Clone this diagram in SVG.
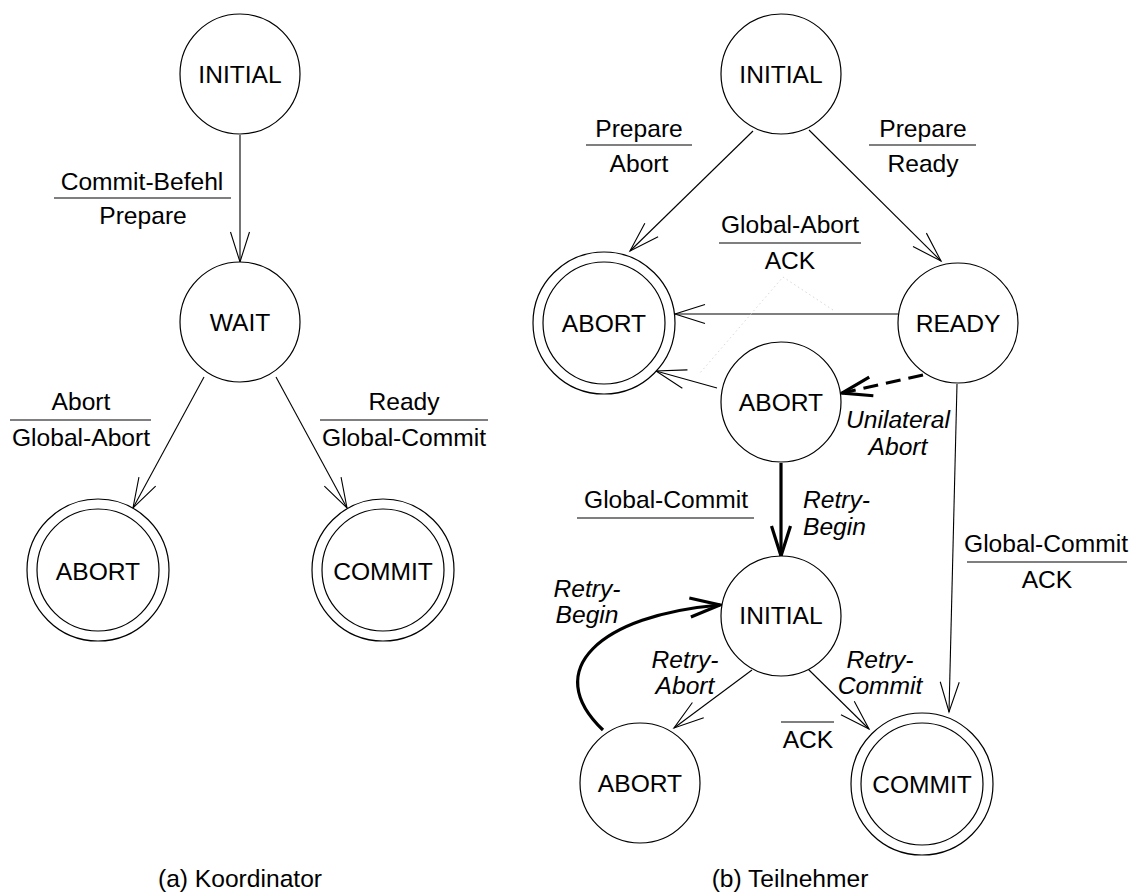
<svg xmlns="http://www.w3.org/2000/svg" width="1134" height="896" viewBox="0 0 1134 896">
<style>
text{font-family:"Liberation Sans",Arial,sans-serif;font-size:24.6px;fill:#000;text-anchor:middle}
.it{font-style:italic}
.st{text-anchor:start}
circle{fill:#fff;stroke:#000;stroke-width:1.2}
.c{fill:none;stroke:#000;stroke-width:1.1}
.thick{fill:none;stroke:#000;stroke-width:3.2}
.dash{fill:none;stroke:#000;stroke-width:3.2;stroke-dasharray:15 8}
.rule{stroke:#000;stroke-width:1.1}
.dot{fill:none;stroke:#d8d8d8;stroke-width:1;stroke-dasharray:1.5 3}
</style>
<defs>
<marker id="arr" markerUnits="userSpaceOnUse" orient="auto" refX="0" refY="0" markerWidth="40" markerHeight="30" viewBox="-35 -15 40 30" overflow="visible">
<path d="M-30,-9.5 L0,0 L-30,9.5" fill="none" stroke="#000" stroke-width="1.1"/>
</marker>
<marker id="arrT" markerUnits="userSpaceOnUse" orient="auto" refX="0" refY="0" markerWidth="40" markerHeight="30" viewBox="-35 -15 40 30" overflow="visible">
<path d="M-30,-9.5 L0,0 L-30,9.5" fill="none" stroke="#000" stroke-width="3.2"/>
</marker>
</defs>

<g id="connectors">
<path class="c" d="M240,135 L240,262" marker-end="url(#arr)"/>
<path class="c" d="M204,377 L133,508" marker-end="url(#arr)"/>
<path class="c" d="M276,377 L347,508" marker-end="url(#arr)"/>
<path class="c" d="M753,131 L630,251" marker-end="url(#arr)"/>
<path class="c" d="M809,130 L941,261" marker-end="url(#arr)"/>
<path class="c" d="M898,314 L675,314" marker-end="url(#arr)"/>
<path class="c" d="M717,388 L656,371" marker-end="url(#arr)"/>
<path class="dot" d="M833,310 L783,277 L700,373"/>
<path class="dash" d="M923,375 L842,393" marker-end="url(#arrT)"/>
<path class="thick" d="M781,463 L781,556" marker-end="url(#arrT)"/>
<path class="thick" d="M603,730 C540,670 600,615 720,605" marker-end="url(#arrT)"/>
<path class="c" d="M752,670 L674,728" marker-end="url(#arr)"/>
<path class="c" d="M808,669 L869,729" marker-end="url(#arr)"/>
<path class="c" d="M957,384 L949,712" marker-end="url(#arr)"/>
</g>

<g id="labels">
<text x="142" y="190">Commit-Befehl</text>
<line class="rule" x1="54" y1="198" x2="231" y2="198"/>
<text x="143" y="224">Prepare</text>
<text x="81" y="410">Abort</text>
<line class="rule" x1="10" y1="420" x2="151" y2="420"/>
<text x="81" y="446">Global-Abort</text>
<text x="404" y="410">Ready</text>
<line class="rule" x1="320" y1="420" x2="488" y2="420"/>
<text x="404" y="446">Global-Commit</text>
<text x="240" y="887">(a) Koordinator</text>

<text x="639" y="137">Prepare</text>
<line class="rule" x1="586" y1="145" x2="692" y2="145"/>
<text x="639" y="172">Abort</text>
<text x="923" y="137">Prepare</text>
<line class="rule" x1="869" y1="145" x2="976" y2="145"/>
<text x="923" y="172">Ready</text>
<text x="790" y="233">Global-Abort</text>
<line class="rule" x1="719" y1="243" x2="861" y2="243"/>
<text x="790" y="269">ACK</text>
<text class="it" x="898" y="428">Unilateral</text>
<text class="it" x="898" y="455">Abort</text>
<text x="666" y="508">Global-Commit</text>
<line class="rule" x1="577" y1="518" x2="754" y2="518"/>
<text class="it st" x="803" y="508">Retry-</text>
<text class="it st" x="803" y="535">Begin</text>
<text class="it" x="587" y="597">Retry-</text>
<text class="it" x="587" y="623">Begin</text>
<text class="it" x="685" y="668">Retry-</text>
<text class="it" x="685" y="694">Abort</text>
<text class="it" x="880" y="668">Retry-</text>
<text class="it" x="880" y="694">Commit</text>
<line class="rule" x1="781" y1="722" x2="834" y2="722"/>
<text x="808" y="748">ACK</text>
<text x="1046" y="552">Global-Commit</text>
<line class="rule" x1="967" y1="562" x2="1127" y2="562"/>
<text x="1047" y="588">ACK</text>
<text x="790" y="887">(b) Teilnehmer</text>
</g>

<g id="a_initial"><circle cx="240" cy="74" r="60"/><text x="240" y="83">INITIAL</text></g>
<g id="a_wait"><circle cx="240" cy="322" r="60"/><text x="240" y="331">WAIT</text></g>
<g id="a_abort"><circle cx="98" cy="570" r="71"/><circle cx="98" cy="570" r="61"/><text x="98" y="580">ABORT</text></g>
<g id="a_commit"><circle cx="383" cy="570" r="71"/><circle cx="383" cy="570" r="61"/><text x="383" y="580">COMMIT</text></g>

<g id="b_initial"><circle cx="781" cy="74" r="60"/><text x="781" y="83">INITIAL</text></g>
<g id="b_abort_final"><circle cx="604" cy="323" r="71"/><circle cx="604" cy="323" r="61"/><text x="604" y="332">ABORT</text></g>
<g id="b_ready"><circle cx="958" cy="323" r="60"/><text x="958" y="332">READY</text></g>
<g id="b_abort_mid"><circle cx="781" cy="402" r="60"/><text x="781" y="411">ABORT</text></g>
<g id="b_initial2"><circle cx="781" cy="616" r="60"/><text x="781" y="624">INITIAL</text></g>
<g id="b_abort_bottom"><circle cx="640" cy="783" r="60"/><text x="640" y="792">ABORT</text></g>
<g id="b_commit"><circle cx="922" cy="784" r="71"/><circle cx="922" cy="784" r="61"/><text x="922" y="793">COMMIT</text></g>
</svg>
